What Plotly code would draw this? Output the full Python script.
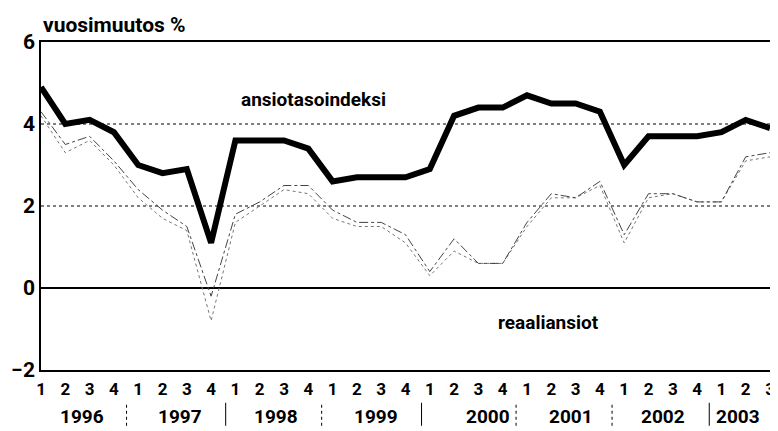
import plotly.graph_objects as go

years = ["1996", "1997", "1998", "1999", "2000", "2001", "2002", "2003"]
quarters = ["1", "2", "3", "4"] * 7 + ["1", "2", "3"]

ansiotasoindeksi = [4.9, 4.0, 4.1, 3.8, 3.0, 2.8, 2.9, 1.1,
                    3.6, 3.6, 3.6, 3.4, 2.6, 2.7, 2.7, 2.7,
                    2.9, 4.2, 4.4, 4.4, 4.7, 4.5, 4.5, 4.3,
                    3.0, 3.7, 3.7, 3.7, 3.8, 4.1, 3.9]
reaaliansiot = [4.3, 3.5, 3.7, 3.1, 2.4, 1.9, 1.5, -0.2,
                1.8, 2.1, 2.5, 2.5, 1.9, 1.6, 1.6, 1.3,
                0.4, 1.2, 0.6, 0.6, 1.6, 2.3, 2.2, 2.6,
                1.3, 2.3, 2.3, 2.1, 2.1, 3.2, 3.3]
reaaliansiot_2 = [4.2, 3.3, 3.6, 3.0, 2.2, 1.7, 1.4, -0.8,
                  1.6, 2.0, 2.4, 2.3, 1.7, 1.5, 1.5, 1.1,
                  0.3, 0.9, 0.6, 0.6, 1.5, 2.2, 2.2, 2.5,
                  1.1, 2.2, 2.3, 2.1, 2.1, 3.1, 3.2]

FONT = "Roboto, Liberation Sans, sans-serif"
xs = list(range(len(quarters)))

fig = go.Figure()
fig.add_trace(go.Scatter(x=xs, y=reaaliansiot_2, mode="lines",
                         line=dict(color="#777777", width=1, dash="dot"),
                         showlegend=False, name="reaaliansiot 2"))
fig.add_trace(go.Scatter(x=xs, y=reaaliansiot, mode="lines",
                         line=dict(color="#444444", width=1, dash="dashdot"),
                         showlegend=False, name="reaaliansiot"))
fig.add_trace(go.Scatter(x=xs, y=ansiotasoindeksi, mode="lines",
                         line=dict(color="black", width=6),
                         showlegend=False, name="ansiotasoindeksi"))

# year labels and separators
year_pos = [1.68, 5.7, 9.69, 13.77, 18.4, 21.8, 25.6, 28.7]
sep_pos = [3.52, 7.6, 11.55, 15.66, 19.55, 23.5, 27.5]
sep_dash = ["dot", "solid", "dot", "solid", "dot", "dot", "solid"]
for yr, c in zip(years, year_pos):
    fig.add_annotation(x=c, y=-0.143, xref="x", yref="paper", text=yr,
                       showarrow=False, yanchor="middle",
                       font=dict(family=FONT, size=19, color="black", weight="bold"))
for sx, d in zip(sep_pos, sep_dash):
    fig.add_shape(type="line", x0=sx, x1=sx, y0=-0.17, y1=-0.10,
                  xref="x", yref="paper",
                  line=dict(color="black", width=1, dash=d))

fig.add_annotation(x=11.2, y=4.6, text="ansiotasoindeksi", showarrow=False,
                   font=dict(family=FONT, size=19, color="black", weight="bold"))
fig.add_annotation(x=20.9, y=-0.85, text="reaaliansiot", showarrow=False,
                   font=dict(family=FONT, size=19, color="black", weight="bold"))
fig.add_annotation(x=0, y=1.052, xref="paper", yref="paper", text="vuosimuutos %",
                   showarrow=False, xanchor="left", yanchor="middle",
                   font=dict(family=FONT, size=21, color="black", weight="bold"))

fig.update_layout(
    width=770, height=423,
    margin=dict(l=33, r=3, t=34, b=61),
    paper_bgcolor="white", plot_bgcolor="white",
    font=dict(family=FONT, size=18, color="black", weight="bold"),
)
fig.update_xaxes(range=[0, 30], tickmode="array", tickvals=xs, ticktext=quarters,
                 showgrid=False, zeroline=False, showline=True, mirror=True,
                 linecolor="black", linewidth=1.5, ticks="outside", ticklen=3,
                 tickcolor="white", tickfont=dict(size=17))
fig.update_yaxes(range=[-2, 6], tickvals=[-2, 0, 2, 4, 6], ticktext=["\u22122", "0", "2", "4", "6"],
                 showgrid=False, zeroline=True, zerolinecolor="black", zerolinewidth=1.5,
                 showline=True, mirror=True, linecolor="black", linewidth=1.5, ticks="",
                 tickfont=dict(size=21))
for gy in [2, 4]:
    fig.add_hline(y=gy, line=dict(color="black", width=1.2, dash="dot"), layer="below")

fig.write_html("out.html")
